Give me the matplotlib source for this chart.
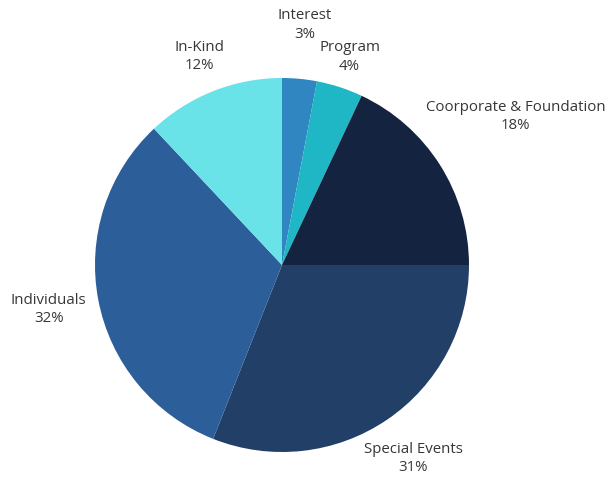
import numpy as np
import matplotlib
matplotlib.use("Agg")
import matplotlib.pyplot as plt

# revenue sources, clockwise from 12 o'clock
categories = ["Interest", "Program", "Coorporate & Foundation",
              "Special Events", "Individuals", "In-Kind"]
shares = [3, 4, 18, 31, 32, 12]

colors = ["#2f86c0", "#1fb6c6", "#14233f", "#213f67", "#2c5e99", "#6ae3e8"]
# how far out each label sits, as a fraction of the radius
label_dist = [1.29, 1.17, 1.48, 1.25, 1.27, 1.20]

W, H = 608, 482
fig = plt.figure(figsize=(W / 100, H / 100), dpi=100)
ax = fig.add_axes([0, 0, 1, 1])

cx, cy, r = 282, H - 265, 187
wedges, _ = ax.pie(shares, colors=colors, startangle=90, counterclock=False,
                   center=(cx, cy), radius=r, frame=True,
                   wedgeprops=dict(linewidth=0))
ax.set_xlim(0, W)
ax.set_ylim(0, H)
ax.set_aspect("equal")
ax.axis("off")

for w, name, val, d in zip(wedges, categories, shares, label_dist):
    mid = np.deg2rad((w.theta1 + w.theta2) / 2)
    x = cx + d * r * np.cos(mid)
    y = cy + d * r * np.sin(mid)
    ax.text(x, y, f"{name}\n{val}%", ha="center", va="center",
            fontsize=10.8, color="#363636", family=["Open Sans", "DejaVu Sans"],
            linespacing=1.32)

fig.savefig("out.png", dpi=100, facecolor="white")
